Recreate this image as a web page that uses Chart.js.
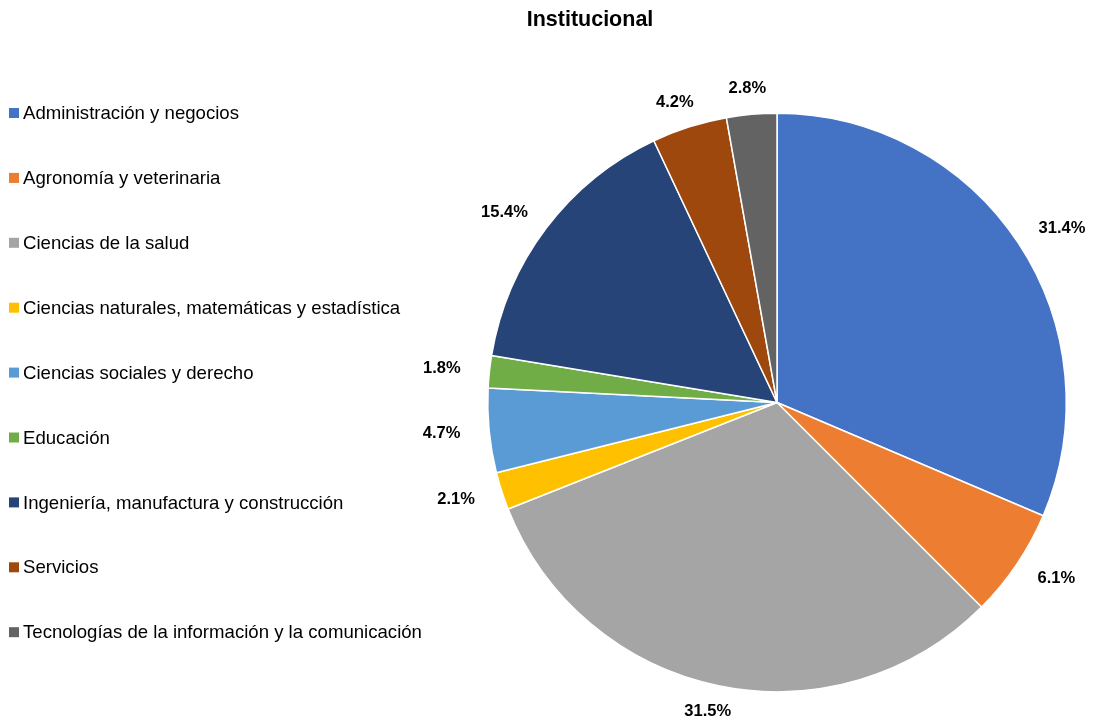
<!DOCTYPE html>
<html>
<head>
<meta charset="utf-8">
<script src="https://cdn.jsdelivr.net/npm/chart.js@4.4.1/dist/chart.umd.min.js"></script>
<style>
  html, body { margin: 0; padding: 0; background: #fff; }
  #wrap { width: 1097px; height: 726px; }
</style>
</head>
<body>
<div id="wrap"><canvas id="pieChart" width="1097" height="726"></canvas></div>
<script>
const chartTitle = "Institucional";
const categories = [
    "Administración y negocios",
    "Agronomía y veterinaria",
    "Ciencias de la salud",
    "Ciencias naturales, matemáticas y estadística",
    "Ciencias sociales y derecho",
    "Educación",
    "Ingeniería, manufactura y construcción",
    "Servicios",
    "Tecnologías de la información y la comunicación"
];
const shares = [31.4, 6.1, 31.5, 2.1, 4.7, 1.8, 15.4, 4.2, 2.8];
const sliceColors = ["#4472C4", "#ED7D31", "#A5A5A5", "#FFC000", "#5B9BD5", "#70AD47", "#264478", "#9E480E", "#636363"];

const FONT = "'Liberation Sans', Arial, sans-serif";

// Title, left legend and outside percentage labels
const decorations = {
    id: "decorations",
    afterDraw(chart) {
        const c = chart.ctx;
        c.save();
        c.fillStyle = "#000";
        c.textBaseline = "middle";

        // title
        c.font = "bold 21.5px " + FONT;
        c.textAlign = "center";
        c.fillText(chartTitle, 590, 20);

        // legend
        c.font = "18.6px " + FONT;
        c.textAlign = "left";
        chart.data.labels.forEach((lab, i) => {
            const y = 113 + i * 64.9;
            c.fillStyle = sliceColors[i];
            c.fillRect(9, y - 5, 10, 10);
            c.fillStyle = "#000";
            c.fillText(lab, 23, y + 1);
        });

        // percentage labels
        c.font = "bold 16.5px " + FONT;
        c.textAlign = "center";
        const meta = chart.getDatasetMeta(0);
        meta.data.forEach((arc, i) => {
            const p = arc.getProps(["x", "y", "startAngle", "endAngle", "outerRadius"], true);
            const mid = (p.startAngle + p.endAngle) / 2;
            const ux = Math.cos(mid), uy = Math.sin(mid);
            const txt = shares[i].toFixed(1) + "%";
            const w = c.measureText(txt).width;
            const r = p.outerRadius + 26;
            const x = p.x + ux * r + ux * (w / 2 + 3);
            const y = p.y + uy * r;
            c.fillText(txt, x, y);
        });
        c.restore();
    }
};

new Chart(document.getElementById("pieChart").getContext("2d"), {
    type: "pie",
    data: {
        labels: categories,
        datasets: [{
            data: shares,
            backgroundColor: sliceColors,
            borderColor: "#ffffff",
            borderWidth: 1.5
        }]
    },
    options: {
        responsive: false,
        animation: false,
        layout: {
            padding: { left: 487, right: 30, top: 112, bottom: 33 }
        },
        plugins: {
            legend: { display: false },
            tooltip: { enabled: false }
        }
    },
    plugins: [decorations]
});
</script>
</body>
</html>
